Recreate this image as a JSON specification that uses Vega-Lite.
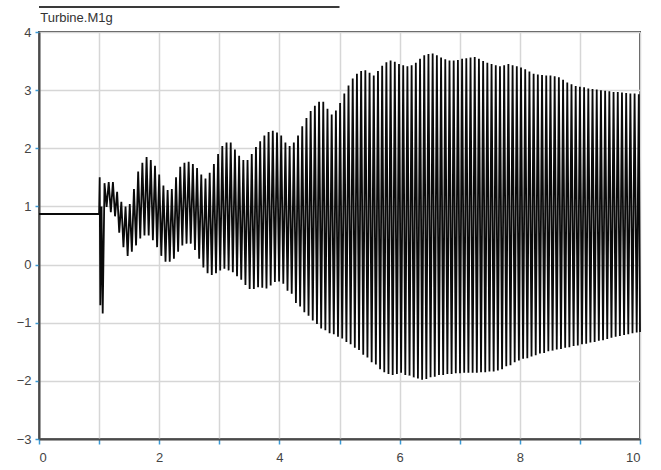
{
  "$schema": "https://vega.github.io/schema/vega-lite/v6.json",
  "width": 601,
  "height": 407,
  "autosize": {"type": "none"},
  "padding": {"left": 39, "top": 32, "right": 21, "bottom": 31},
  "config": {
    "view": {"stroke": "#4a4a4a", "strokeWidth": 2},
    "font": "Liberation Sans"
  },
  "layer": [
    {
      "data": {"values": [
        {"t": 0, "v": 0.87}, {"t": 1.0, "v": 0.87}, {"t": 1.01, "v": 1.5}, {"t": 1.02, "v": -0.7}, {"t": 1.04, "v": 1.0}, {"t": 1.06, "v": -0.84}, {"t": 1.09, "v": 1.4},
        {"t": 1.16, "v": 1.42}, {"t": 1.23, "v": 1.42}, {"t": 1.30, "v": 1.25}, {"t": 1.37, "v": 1.08}, {"t": 1.44, "v": 1.0}, {"t": 1.51, "v": 1.04},
        {"t": 1.58, "v": 1.3}, {"t": 1.65, "v": 1.6}, {"t": 1.72, "v": 1.75}, {"t": 1.79, "v": 1.85}, {"t": 1.86, "v": 1.8}, {"t": 1.93, "v": 1.7},
        {"t": 2.00, "v": 1.55}, {"t": 2.07, "v": 1.36}, {"t": 2.14, "v": 1.28}, {"t": 2.21, "v": 1.3}, {"t": 2.28, "v": 1.5}, {"t": 2.35, "v": 1.68},
        {"t": 2.42, "v": 1.75}, {"t": 2.49, "v": 1.77}, {"t": 2.56, "v": 1.73}, {"t": 2.63, "v": 1.66}, {"t": 2.70, "v": 1.55}, {"t": 2.77, "v": 1.48},
        {"t": 2.84, "v": 1.58}, {"t": 2.91, "v": 1.73}, {"t": 2.98, "v": 1.9}, {"t": 3.05, "v": 2.04}, {"t": 3.12, "v": 2.1}, {"t": 3.19, "v": 2.1},
        {"t": 3.26, "v": 1.98}, {"t": 3.33, "v": 1.87}, {"t": 3.40, "v": 1.8}, {"t": 3.47, "v": 1.8}, {"t": 3.54, "v": 1.9}, {"t": 3.61, "v": 2.02},
        {"t": 3.68, "v": 2.12}, {"t": 3.75, "v": 2.22}, {"t": 3.82, "v": 2.28}, {"t": 3.89, "v": 2.3}, {"t": 3.96, "v": 2.27}, {"t": 4.03, "v": 2.22},
        {"t": 4.10, "v": 2.1}, {"t": 4.17, "v": 2.04}, {"t": 4.24, "v": 2.1}, {"t": 4.31, "v": 2.22}, {"t": 4.38, "v": 2.38}, {"t": 4.45, "v": 2.52},
        {"t": 4.52, "v": 2.64}, {"t": 4.59, "v": 2.73}, {"t": 4.66, "v": 2.8}, {"t": 4.73, "v": 2.8}, {"t": 4.80, "v": 2.68}, {"t": 4.87, "v": 2.58},
        {"t": 4.94, "v": 2.65}, {"t": 5.01, "v": 2.78}, {"t": 5.08, "v": 2.94}, {"t": 5.15, "v": 3.08}, {"t": 5.22, "v": 3.2}, {"t": 5.29, "v": 3.28},
        {"t": 5.36, "v": 3.33}, {"t": 5.43, "v": 3.34}, {"t": 5.50, "v": 3.3}, {"t": 5.57, "v": 3.25}, {"t": 5.64, "v": 3.33}, {"t": 5.71, "v": 3.42},
        {"t": 5.78, "v": 3.48}, {"t": 5.85, "v": 3.51}, {"t": 5.92, "v": 3.49}, {"t": 5.99, "v": 3.45}, {"t": 6.06, "v": 3.43}, {"t": 6.13, "v": 3.41},
        {"t": 6.20, "v": 3.43}, {"t": 6.27, "v": 3.47}, {"t": 6.34, "v": 3.54}, {"t": 6.41, "v": 3.6}, {"t": 6.48, "v": 3.62}, {"t": 6.55, "v": 3.63},
        {"t": 6.62, "v": 3.6}, {"t": 6.69, "v": 3.56}, {"t": 6.76, "v": 3.53}, {"t": 6.83, "v": 3.51}, {"t": 6.90, "v": 3.51}, {"t": 6.97, "v": 3.52},
        {"t": 7.04, "v": 3.54}, {"t": 7.11, "v": 3.55}, {"t": 7.18, "v": 3.56}, {"t": 7.25, "v": 3.57}, {"t": 7.32, "v": 3.54}, {"t": 7.39, "v": 3.5},
        {"t": 7.46, "v": 3.47}, {"t": 7.53, "v": 3.45}, {"t": 7.60, "v": 3.43}, {"t": 7.67, "v": 3.41}, {"t": 7.74, "v": 3.43}, {"t": 7.81, "v": 3.45},
        {"t": 7.88, "v": 3.43}, {"t": 7.95, "v": 3.41}, {"t": 8.02, "v": 3.39}, {"t": 8.09, "v": 3.36}, {"t": 8.16, "v": 3.32}, {"t": 8.23, "v": 3.28},
        {"t": 8.30, "v": 3.27}, {"t": 8.37, "v": 3.26}, {"t": 8.44, "v": 3.25}, {"t": 8.51, "v": 3.25}, {"t": 8.58, "v": 3.24}, {"t": 8.65, "v": 3.22},
        {"t": 8.72, "v": 3.18}, {"t": 8.79, "v": 3.13}, {"t": 8.86, "v": 3.1}, {"t": 8.93, "v": 3.07}, {"t": 9.00, "v": 3.06}, {"t": 9.07, "v": 3.05},
        {"t": 9.14, "v": 3.03}, {"t": 9.21, "v": 3.02}, {"t": 9.28, "v": 3.01}, {"t": 9.35, "v": 3.0}, {"t": 9.42, "v": 2.99}, {"t": 9.49, "v": 2.98},
        {"t": 9.56, "v": 2.97}, {"t": 9.63, "v": 2.97}, {"t": 9.70, "v": 2.96}, {"t": 9.77, "v": 2.95}, {"t": 9.84, "v": 2.94}, {"t": 9.91, "v": 2.94},
        {"t": 9.98, "v": 2.93},
        {"t": 1.125, "v": 0.99}, {"t": 1.195, "v": 0.9}, {"t": 1.265, "v": 0.83}, {"t": 1.335, "v": 0.55}, {"t": 1.405, "v": 0.3}, {"t": 1.475, "v": 0.15},
        {"t": 1.545, "v": 0.22}, {"t": 1.615, "v": 0.33}, {"t": 1.685, "v": 0.45}, {"t": 1.755, "v": 0.5}, {"t": 1.825, "v": 0.5}, {"t": 1.895, "v": 0.42},
        {"t": 1.965, "v": 0.3}, {"t": 2.035, "v": 0.15}, {"t": 2.105, "v": 0.05}, {"t": 2.175, "v": 0.05}, {"t": 2.245, "v": 0.1}, {"t": 2.315, "v": 0.22},
        {"t": 2.385, "v": 0.33}, {"t": 2.455, "v": 0.36}, {"t": 2.525, "v": 0.36}, {"t": 2.595, "v": 0.25}, {"t": 2.665, "v": 0.1}, {"t": 2.735, "v": -0.05},
        {"t": 2.805, "v": -0.15}, {"t": 2.875, "v": -0.18}, {"t": 2.945, "v": -0.15}, {"t": 3.015, "v": -0.1}, {"t": 3.085, "v": -0.07}, {"t": 3.155, "v": -0.1},
        {"t": 3.225, "v": -0.13}, {"t": 3.295, "v": -0.2}, {"t": 3.365, "v": -0.26}, {"t": 3.435, "v": -0.35}, {"t": 3.505, "v": -0.42}, {"t": 3.575, "v": -0.42},
        {"t": 3.645, "v": -0.39}, {"t": 3.715, "v": -0.4}, {"t": 3.785, "v": -0.41}, {"t": 3.855, "v": -0.36}, {"t": 3.925, "v": -0.3}, {"t": 3.995, "v": -0.29},
        {"t": 4.065, "v": -0.33}, {"t": 4.135, "v": -0.45}, {"t": 4.205, "v": -0.5}, {"t": 4.275, "v": -0.66}, {"t": 4.345, "v": -0.72}, {"t": 4.415, "v": -0.82},
        {"t": 4.485, "v": -0.88}, {"t": 4.555, "v": -0.96}, {"t": 4.625, "v": -1.02}, {"t": 4.695, "v": -1.1}, {"t": 4.765, "v": -1.13}, {"t": 4.835, "v": -1.18},
        {"t": 4.905, "v": -1.2}, {"t": 4.975, "v": -1.24}, {"t": 5.045, "v": -1.27}, {"t": 5.115, "v": -1.33}, {"t": 5.185, "v": -1.37}, {"t": 5.255, "v": -1.43},
        {"t": 5.325, "v": -1.47}, {"t": 5.395, "v": -1.55}, {"t": 5.465, "v": -1.6}, {"t": 5.535, "v": -1.68}, {"t": 5.605, "v": -1.72}, {"t": 5.675, "v": -1.8},
        {"t": 5.745, "v": -1.85}, {"t": 5.815, "v": -1.88}, {"t": 5.885, "v": -1.9}, {"t": 5.955, "v": -1.88}, {"t": 6.025, "v": -1.86}, {"t": 6.095, "v": -1.9},
        {"t": 6.165, "v": -1.91}, {"t": 6.235, "v": -1.94}, {"t": 6.305, "v": -1.96}, {"t": 6.375, "v": -1.98}, {"t": 6.445, "v": -1.97}, {"t": 6.515, "v": -1.94},
        {"t": 6.585, "v": -1.93}, {"t": 6.655, "v": -1.9}, {"t": 6.725, "v": -1.9}, {"t": 6.795, "v": -1.88}, {"t": 6.865, "v": -1.88}, {"t": 6.935, "v": -1.87},
        {"t": 7.005, "v": -1.87}, {"t": 7.075, "v": -1.86}, {"t": 7.145, "v": -1.86}, {"t": 7.215, "v": -1.86}, {"t": 7.285, "v": -1.86}, {"t": 7.355, "v": -1.85},
        {"t": 7.425, "v": -1.85}, {"t": 7.495, "v": -1.84}, {"t": 7.565, "v": -1.84}, {"t": 7.635, "v": -1.82}, {"t": 7.705, "v": -1.8}, {"t": 7.775, "v": -1.75},
        {"t": 7.845, "v": -1.73}, {"t": 7.915, "v": -1.68}, {"t": 7.985, "v": -1.65}, {"t": 8.055, "v": -1.62}, {"t": 8.125, "v": -1.61}, {"t": 8.195, "v": -1.58},
        {"t": 8.265, "v": -1.56}, {"t": 8.335, "v": -1.53}, {"t": 8.405, "v": -1.52}, {"t": 8.475, "v": -1.49}, {"t": 8.545, "v": -1.48}, {"t": 8.615, "v": -1.46},
        {"t": 8.685, "v": -1.45}, {"t": 8.755, "v": -1.43}, {"t": 8.825, "v": -1.42}, {"t": 8.895, "v": -1.4}, {"t": 8.965, "v": -1.39}, {"t": 9.035, "v": -1.37},
        {"t": 9.105, "v": -1.36}, {"t": 9.175, "v": -1.34}, {"t": 9.245, "v": -1.33}, {"t": 9.315, "v": -1.31}, {"t": 9.385, "v": -1.3}, {"t": 9.455, "v": -1.28},
        {"t": 9.525, "v": -1.26}, {"t": 9.595, "v": -1.24}, {"t": 9.665, "v": -1.23}, {"t": 9.735, "v": -1.21}, {"t": 9.805, "v": -1.2}, {"t": 9.875, "v": -1.18},
        {"t": 9.945, "v": -1.17}, {"t": 10.0, "v": -1.16}
      ]},
      "mark": {"type": "line", "color": "#0a0a0a", "strokeWidth": 1.8},
      "encoding": {
        "x": {"field": "t", "type": "quantitative", "scale": {"domain": [0, 10], "nice": false, "zero": false},
          "axis": {"title": null, "values": [0,1,2,3,4,5,6,7,8,9,10], "format": "d", "labelExpr": "datum.value % 2 == 0 ? datum.label : ''",
            "grid": true, "gridColor": "#d6d6d6", "gridWidth": 1.5, "domainColor": "#4a4a4a", "domainWidth": 2,
            "tickColor": "#3a9ad6", "tickSize": 5, "tickWidth": 1.5, "labelFontSize": 13, "labelColor": "#444444", "labelPadding": 7, "labelFont": "Liberation Sans"}},
        "y": {"field": "v", "type": "quantitative", "scale": {"domain": [-3, 4], "nice": false, "zero": false},
          "axis": {"title": null, "values": [-3,-2,-1,0,1,2,3,4], "format": "d",
            "grid": true, "gridColor": "#d6d6d6", "gridWidth": 1.5, "domainColor": "#4a4a4a", "domainWidth": 2,
            "tickColor": "#3a9ad6", "tickSize": 4, "tickWidth": 1.5, "labelFontSize": 13, "labelColor": "#444444", "labelPadding": 4, "labelFont": "Liberation Sans"}}
      }
    },
    {
      "data": {"values": [{"a": 0, "b": 5.0, "y": 4.43, "ty": 4.17, "tx": 0.02, "label": "Turbine.M1g"}]},
      "layer": [
        {
          "mark": {"type": "rule", "clip": false, "color": "#3a3a3a", "strokeWidth": 2},
          "encoding": {
            "x": {"field": "a", "type": "quantitative"},
            "x2": {"field": "b"},
            "y": {"field": "y", "type": "quantitative"}
          }
        },
        {
          "mark": {"type": "text", "clip": false, "align": "left", "baseline": "alphabetic", "fontSize": 13, "color": "#333333", "font": "Liberation Sans"},
          "encoding": {
            "x": {"field": "tx", "type": "quantitative"},
            "y": {"field": "ty", "type": "quantitative"},
            "text": {"field": "label"}
          }
        }
      ]
    }
  ]
}
